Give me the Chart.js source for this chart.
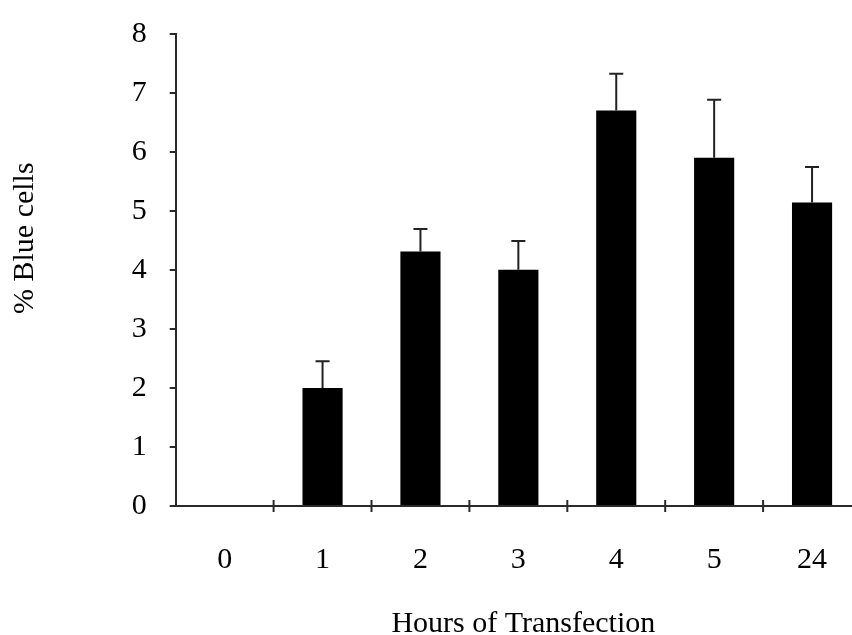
<!DOCTYPE html>
<html>
<head>
<meta charset="utf-8">
<script src="https://cdn.jsdelivr.net/npm/chart.js@4"></script>
<style>
  html, body { margin: 0; padding: 0; background: #fff; overflow: hidden; }
  #wrap { width: 861px; height: 635px; }
</style>
</head>
<body>
<div id="wrap"><canvas id="c" width="861" height="635"></canvas></div>
<script>
const categories = ["0", "1", "2", "3", "4", "5", "24"];
const blueCells = [0, 2.0, 4.31, 4.0, 6.70, 5.90, 5.14];
const errorUp = [0, 0.45, 0.38, 0.49, 0.62, 0.98, 0.60];
const yTicks = [0, 1, 2, 3, 4, 5, 6, 7, 8];
const xTitle = "Hours of Transfection";
const yTitle = "% Blue cells";

const axisColor = "#2a2a2a";
const fontFamily = "'Liberation Serif', 'DejaVu Serif', serif";

const errorBarPlugin = {
  id: "errorBars",
  afterDatasetsDraw(chart) {
    const ctx = chart.ctx;
    const meta = chart.getDatasetMeta(0);
    const yScale = chart.scales.y;
    ctx.save();
    ctx.strokeStyle = "#222";
    ctx.lineWidth = 2;
    meta.data.forEach((bar, i) => {
      if (!errorUp[i]) return;
      const x = bar.x;
      const yTop = yScale.getPixelForValue(blueCells[i] + errorUp[i]);
      const yBase = yScale.getPixelForValue(blueCells[i]);
      ctx.beginPath();
      ctx.moveTo(x, yBase);
      ctx.lineTo(x, yTop);
      ctx.moveTo(x - 7, yTop);
      ctx.lineTo(x + 7, yTop);
      ctx.stroke();
    });
    ctx.restore();
  }
};

const xTickCross = {
  id: "xTickCross",
  afterDraw(chart) {
    const xs = chart.scales.x;
    const ys = chart.scales.y;
    const ctx = chart.ctx;
    const n = categories.length;
    const step = (xs.right - xs.left) / n;
    const y0 = ys.getPixelForValue(0);
    ctx.save();
    ctx.strokeStyle = axisColor;
    ctx.lineWidth = 2;
    for (let i = 1; i < n; i++) {
      const x = xs.left + i * step;
      ctx.beginPath();
      ctx.moveTo(x, y0 - 6);
      ctx.lineTo(x, y0 + 6);
      ctx.stroke();
    }
    ctx.restore();
  }
};

const axisTitles = {
  id: "axisTitles",
  afterDraw(chart) {
    const ctx = chart.ctx;
    const ca = chart.chartArea;
    ctx.save();
    ctx.fillStyle = "#000";
    ctx.font = "30px " + fontFamily;
    ctx.textAlign = "center";
    ctx.textBaseline = "alphabetic";
    // x title
    ctx.fillText(xTitle, (ca.left + ca.right) / 2 + 5, chart.height - 3);
    // y title
    ctx.translate(33, ca.top + (ca.bottom - ca.top) * 0.433);
    ctx.rotate(-Math.PI / 2);
    ctx.fillText(yTitle, 0, 0);
    ctx.restore();
  }
};

new Chart(document.getElementById("c"), {
  type: "bar",
  data: {
    labels: categories,
    datasets: [{
      data: blueCells,
      backgroundColor: "#000",
      borderWidth: 0,
      categoryPercentage: 1.0,
      barPercentage: 0.41
    }]
  },
  options: {
    responsive: false,
    animation: false,
    devicePixelRatio: 1,
    layout: { padding: { top: 33.7, left: 0, right: 0, bottom: 0 } },
    plugins: { legend: { display: false }, tooltip: { enabled: false } },
    scales: {
      x: {
        offset: true,
        afterFit(s) { s.height = 129; s.paddingLeft = 0; s.paddingRight = 0; },
        grid: { display: false, drawOnChartArea: false },
        border: { display: true, color: axisColor, width: 2 },
        ticks: { color: "#000", padding: 28, font: { family: fontFamily, size: 30 } },
        title: { display: false }
      },
      y: {
        min: 0, max: 8,
        afterFit(s) { s.width = 175.7; s.paddingTop = 0; s.paddingBottom = 0; },
        afterBuildTicks(s) { s.ticks = yTicks.map(v => ({ value: v })); },
        grid: { display: true, drawOnChartArea: false, drawTicks: true, tickLength: 6, color: axisColor, lineWidth: 2 },
        border: { display: true, color: axisColor, width: 2 },
        ticks: { color: "#000", padding: 23, font: { family: fontFamily, size: 30 } },
        title: { display: false }
      }
    }
  },
  plugins: [errorBarPlugin, xTickCross, axisTitles]
});
</script>
</body>
</html>
